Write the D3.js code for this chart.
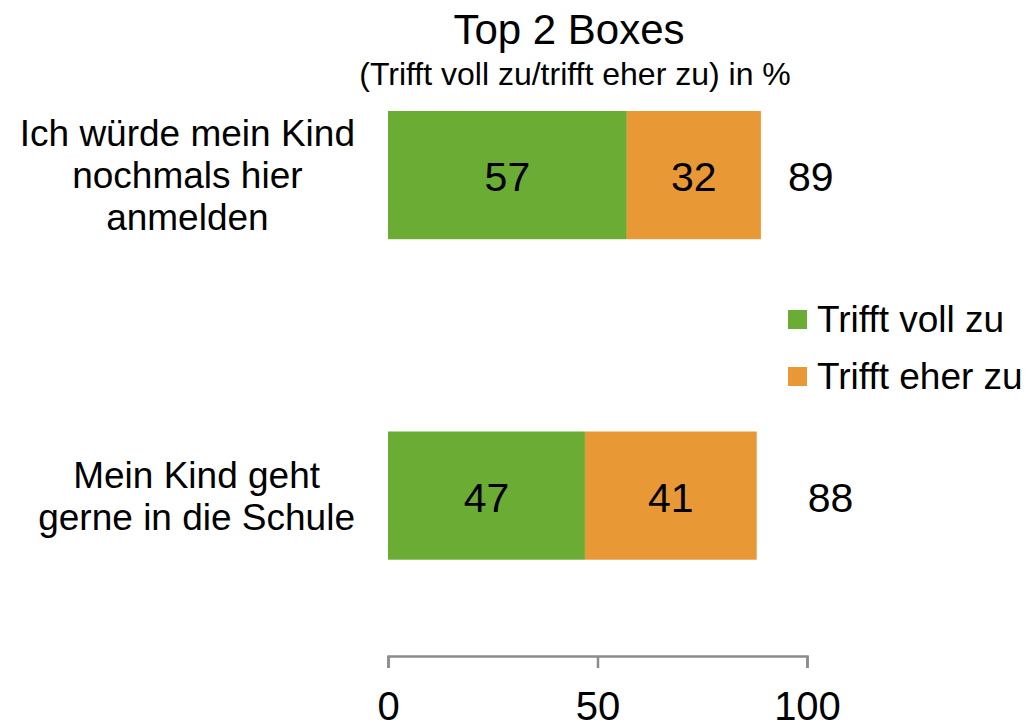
<!DOCTYPE html>
<html>
<head>
<meta charset="utf-8">
<script src="https://cdn.jsdelivr.net/npm/d3@7"></script>
<style>
  body { margin: 0; background: #fff; }
  svg text { font-family: "Liberation Sans", Arial, sans-serif; fill: #000; }
</style>
</head>
<body>
<svg id="chart"></svg>
<script>
var categories = [
  ["Ich würde mein Kind", "nochmals hier", "anmelden"],
  ["Mein Kind geht", "gerne in die Schule"]
];
var seriesNames = ["Trifft voll zu", "Trifft eher zu"];
var vollZu = [57, 47];
var eherZu = [32, 41];
var totals = [89, 88];
var xTicks = [0, 50, 100];
var colors = ["#6aac34", "#e89936"];

var width = 1027, height = 725;
var svg = d3.select("#chart").attr("width", width).attr("height", height);

var x = d3.scaleLinear().domain([0, 100]).range([388, 807]);
var y = d3.scaleBand().domain(d3.range(categories.length))
  .range([111, 559.7]).paddingInner(0.6).paddingOuter(0);

// title
svg.append("text").attr("x", 569).attr("y", 44)
  .attr("text-anchor", "middle").style("font-size", "42px").text("Top 2 Boxes");
svg.append("text").attr("x", 575).attr("y", 85)
  .attr("text-anchor", "middle").style("font-size", "32px")
  .text("(Trifft voll zu/trifft eher zu) in %");

// stacked rows
var rows = categories.map(function(c, i) {
  return {i: i, lines: c, parts: [vollZu[i], eherZu[i]], total: totals[i]};
});

var row = svg.selectAll("g.row").data(rows).enter().append("g").attr("class", "row");

row.each(function(d) {
  var g = d3.select(this);
  var x0 = 0;
  d.parts.forEach(function(v, k) {
    g.append("rect")
      .attr("x", x(x0)).attr("y", y(d.i))
      .attr("width", x(x0 + v) - x(x0)).attr("height", y.bandwidth())
      .attr("fill", colors[k]);
    g.append("text")
      .attr("x", (x(x0) + x(x0 + v)) / 2)
      .attr("y", y(d.i) + y.bandwidth() / 2 + 16)
      .attr("text-anchor", "middle").style("font-size", "41px")
      .text(v);
    x0 += v;
  });
});

// totals next to the bars
var totalOffset = [27, 51];
row.append("text")
  .attr("x", function(d) { return x(d.total) + totalOffset[d.i]; })
  .attr("y", function(d) { return y(d.i) + y.bandwidth() / 2 + 16; })
  .style("font-size", "41px")
  .text(function(d) { return d.total; });

// category labels: block right-aligned, lines centred
var labelRight = 355, lineH = 42;
row.each(function(d) {
  var g = d3.select(this);
  var cy = y(d.i) + y.bandwidth() / 2;
  var n = d.lines.length;
  var t = g.selectAll("text.cat").data(d.lines).enter().append("text")
    .attr("class", "cat")
    .attr("y", function(l, j) { return cy + (j - (n - 1) / 2) * lineH + 13; })
    .attr("text-anchor", "middle").style("font-size", "37px")
    .text(function(l) { return l; });
  var maxW = 0;
  t.each(function() { maxW = Math.max(maxW, this.getComputedTextLength()); });
  t.attr("x", labelRight - maxW / 2);
});

// legend
var legend = svg.selectAll("g.legend").data(seriesNames).enter().append("g")
  .attr("class", "legend")
  .attr("transform", function(d, i) { return "translate(788," + (310 + i * 57) + ")"; });
legend.append("rect").attr("width", 19).attr("height", 19)
  .attr("fill", function(d, i) { return colors[i]; });
legend.append("text").attr("x", 29).attr("y", 22)
  .style("font-size", "37px").text(function(d) { return d; });

// axis
var axis = svg.append("g").attr("transform", "translate(0,656)")
  .call(d3.axisBottom(x).tickValues(xTicks).tickSize(12).tickSizeOuter(12).tickPadding(24));
axis.selectAll("path, line").attr("stroke", "#8c8c8c").attr("stroke-width", 2.5);
axis.selectAll("text").style("font-size", "40px")
  .style("font-family", "'Liberation Sans', Arial, sans-serif").attr("fill", "#000");
</script>
</body>
</html>
